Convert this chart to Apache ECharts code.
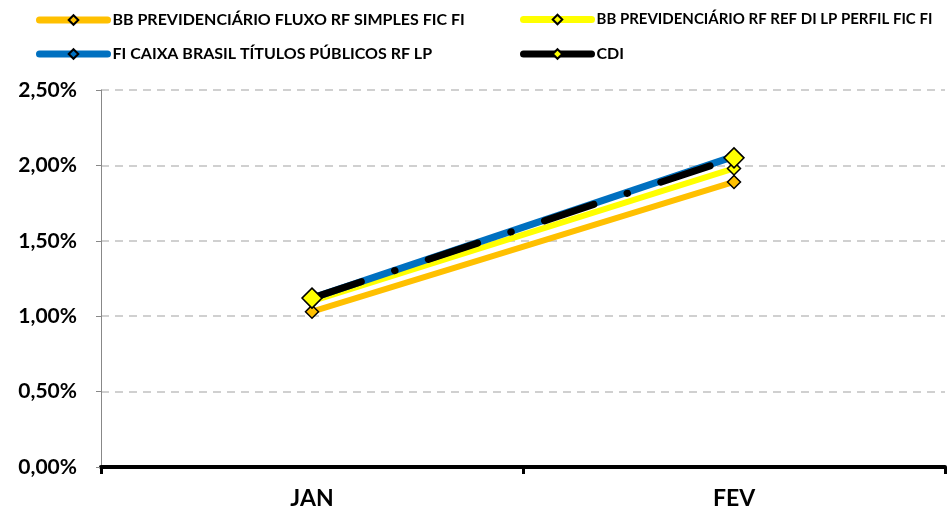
<!DOCTYPE html>
<html>
<head>
<meta charset="utf-8">
<script src="https://cdn.jsdelivr.net/npm/echarts@6/dist/echarts.min.js"></script>
<style>
  html, body { margin: 0; padding: 0; background: #fff; }
  #chart { width: 952px; height: 513px; }
</style>
</head>
<body>
<div id="chart"></div>
<script>
// dados
var meses = ['JAN', 'FEV']
var bbFluxo = [1.03, 1.89]
var bbPerfil = [1.10, 1.98]
var caixaTitulos = [1.12, 2.06]
var cdi = [1.12, 2.05]

var fonte = 'Lato, "Open Sans", sans-serif'

var myChart = echarts.init(document.getElementById('chart'))

function legenda (nome, left, top, tam) {
  return {
    data: [nome],
    left: left,
    top: top,
    padding: 0,
    itemWidth: 68,
    itemHeight: 12,
    lineStyle: { width: 7, type: 'solid', cap: 'round' },
    textStyle: { fontFamily: fonte, fontWeight: 'bold', fontSize: tam, color: '#000' }
  }
}

var option = {
  animation: false,
  legend: [
    legenda('BB PREVIDENCIÁRIO FLUXO RF SIMPLES FIC FI', 36, 12, 16),
    legenda('BB PREVIDENCIÁRIO RF REF DI LP PERFIL FIC FI', 520, 12, 15),
    legenda('FI CAIXA BRASIL TÍTULOS PÚBLICOS RF LP', 36, 46, 16),
    legenda('CDI', 520, 46, 16)
  ],
  grid: { left: 101, right: 7, top: 90, bottom: 46 },
  xAxis: {
    type: 'category',
    data: meses,
    boundaryGap: true,
    axisLine: { lineStyle: { color: '#000', width: 4 } },
    axisTick: { show: true, length: 7, lineStyle: { color: '#000', width: 3 } },
    axisLabel: { fontFamily: fonte, fontWeight: 'bold', fontSize: 23, color: '#000', margin: 20 }
  },
  yAxis: {
    type: 'value',
    min: 0,
    max: 2.5,
    interval: 0.5,
    axisLine: { show: true, lineStyle: { color: '#888', width: 1 } },
    axisTick: { show: true, length: 5, lineStyle: { color: '#888' } },
    splitLine: { lineStyle: { color: '#d0d0d0', type: [8, 6], width: 2 } },
    axisLabel: {
      fontFamily: fonte, fontWeight: 'bold', fontSize: 21, color: '#000', margin: 24,
      formatter: function (v) { return v.toFixed(2).replace('.', ',') + '%' }
    }
  },
  series: [
    {
      name: 'BB PREVIDENCIÁRIO FLUXO RF SIMPLES FIC FI',
      type: 'line',
      data: bbFluxo,
      symbol: 'diamond',
      symbolSize: 13,
      lineStyle: { color: '#FFC000', width: 6 },
      itemStyle: { color: '#FFC000', borderColor: '#000', borderWidth: 1.5 }
    },
    {
      name: 'BB PREVIDENCIÁRIO RF REF DI LP PERFIL FIC FI',
      type: 'line',
      data: bbPerfil,
      symbol: 'diamond',
      symbolSize: 13,
      lineStyle: { color: '#FFFF00', width: 6 },
      itemStyle: { color: '#FFFF00', borderColor: '#000', borderWidth: 1.5 }
    },
    {
      name: 'FI CAIXA BRASIL TÍTULOS PÚBLICOS RF LP',
      type: 'line',
      data: caixaTitulos,
      symbol: 'diamond',
      symbolSize: 13,
      lineStyle: { color: '#0070C0', width: 7 },
      itemStyle: { color: '#0070C0', borderColor: '#000', borderWidth: 1.5 }
    },
    {
      name: 'CDI',
      type: 'line',
      data: cdi,
      symbol: 'diamond',
      symbolSize: 20,
      z: 5,
      lineStyle: { color: '#000', width: 7, cap: 'round', type: [52, 35, 0.5, 35] },
      itemStyle: { color: '#FFFF00', borderColor: '#000', borderWidth: 1.5 }
    }
  ]
}
myChart.setOption(option)
</script>
</body>
</html>
